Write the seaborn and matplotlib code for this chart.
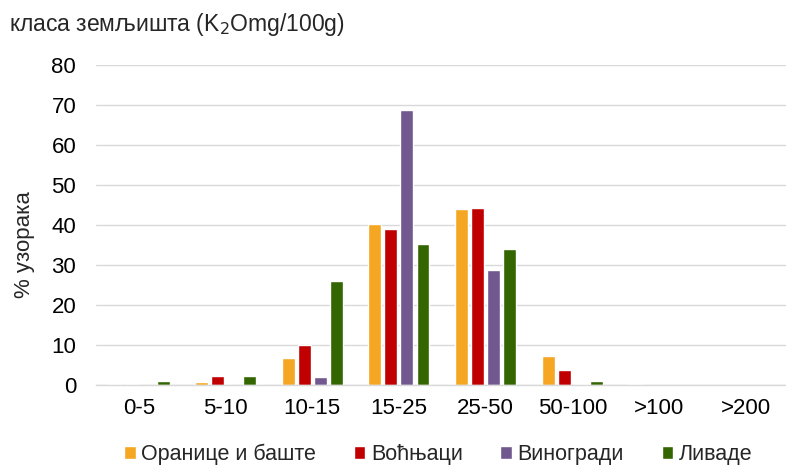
import matplotlib
matplotlib.use("Agg")
import matplotlib.pyplot as plt
import seaborn as sns
import pandas as pd

categories = ["0-5", "5-10", "10-15", "15-25", "25-50", "50-100", ">100", ">200"]
series_names = ["Оранице и баште", "Воћњаци", "Виногради", "Ливаде"]
oranice = [0.2, 0.8, 6.7, 40.3, 44.0, 7.2, 0.3, 0.0]
vocnjaci = [0.3, 2.2, 10.0, 39.0, 44.3, 3.7, 0.0, 0.0]
vinogradi = [0.0, 0.0, 2.0, 68.8, 28.9, 0.3, 0.0, 0.0]
livade = [1.0, 2.3, 26.0, 35.3, 34.0, 1.0, 0.0, 0.0]
colors = ["#F5A623", "#C00000", "#71588F", "#336600"]

rows = []
for name, vals in zip(series_names, [oranice, vocnjaci, vinogradi, livade]):
    for c, v in zip(categories, vals):
        rows.append({"cat": c, "series": name, "val": v})
df = pd.DataFrame(rows)

sns.set_style("white")
plt.rcParams["font.family"] = ["Liberation Sans", "DejaVu Sans"]

fig = plt.figure(figsize=(7.86, 4.68), dpi=100)
ax = fig.add_axes([0.1217, 0.177, 0.882, 0.684])
sns.barplot(data=df, x="cat", y="val", hue="series", order=categories,
            hue_order=series_names, palette=colors, width=0.74, gap=0.19,
            saturation=1, ax=ax, legend=True)

ax.set_ylim(0, 80)
ax.set_yticks(range(0, 81, 10))
ax.yaxis.grid(True, color="#d9d9d9", linewidth=1)
ax.set_axisbelow(True)
for s in ["top", "right", "left"]:
    ax.spines[s].set_visible(False)
ax.spines["bottom"].set_color("#d9d9d9")
ax.spines["bottom"].set_linewidth(1)
ax.tick_params(axis="both", length=0, labelsize=16, colors="black")
ax.tick_params(axis="y", pad=14)
ax.tick_params(axis="x", pad=9)
ax.set_xlabel("")
ax.set_ylabel("")
ax.set_xlim(-0.5, 7.5)

fig.text(0.031, 0.478, "% узорака", fontsize=16, rotation=90, ha="center", va="center")
fig.text(0.012, 0.947, "класа земљишта (K$_2$Omg/100g)", fontsize=16.5, ha="left", va="center")

handles, labels = ax.get_legend_handles_labels()
ax.legend(handles, labels, loc="center", bbox_to_anchor=(0.494, -0.215),
          ncol=4, frameon=False, fontsize=15.5, handlelength=0.55, handleheight=0.55,
          handletextpad=0.25, columnspacing=1.75)

fig.savefig("out.png", dpi=100)
